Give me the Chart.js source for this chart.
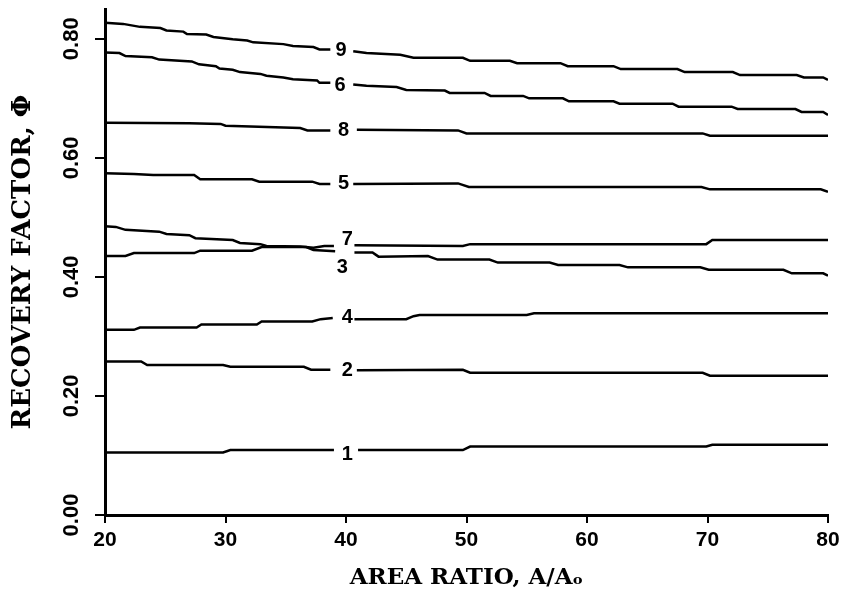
<!DOCTYPE html>
<html>
<head>
<meta charset="utf-8">
<script src="https://cdn.jsdelivr.net/npm/chart.js@4.4.1/dist/chart.umd.min.js"></script>
<style>
html, body { margin: 0; padding: 0; background: #fff; }
</style>
</head>
<body>
<canvas id="chart" width="843" height="601"></canvas>
<script>
// curves: [area ratio, recovery factor]; null = gap where the label sits
const curve1 = [[20,0.105],[29.8,0.105],[30.4,0.109],[39.0,0.109],[40.0,null],[41.0,0.109],[49.7,0.109],[50.3,0.115],[69.9,0.115],[70.4,0.118],[80,0.118]];
const curve2 = [[20,0.258],[23.0,0.258],[23.5,0.252],[29.8,0.252],[30.4,0.249],[36.5,0.249],[37.1,0.244],[38.7,0.244],[40.0,null],[40.9,0.243],[49.7,0.244],[50.3,0.239],[69.6,0.239],[70.2,0.234],[80,0.234]];
const curve3 = [[20,0.435],[21.7,0.435],[22.4,0.440],[27.4,0.440],[27.9,0.444],[32.2,0.444],[33.0,0.450],[36.7,0.450],[37.3,0.445],[39.1,0.443],[39.8,null],[40.7,0.441],[42.2,0.441],[42.7,0.434],[46.8,0.435],[47.6,0.429],[51.9,0.429],[52.6,0.424],[56.9,0.424],[57.6,0.420],[62.7,0.420],[63.4,0.416],[69.4,0.416],[70.1,0.412],[76.3,0.412],[77.0,0.406],[79.6,0.406],[80,0.402]];
const curve4 = [[20,0.311],[22.4,0.311],[22.9,0.315],[27.6,0.315],[28.0,0.320],[32.6,0.320],[33.0,0.325],[37.2,0.325],[37.9,0.329],[38.9,0.331],[40.0,null],[40.7,0.329],[45.0,0.329],[45.6,0.334],[46.1,0.336],[55.0,0.336],[55.6,0.339],[80,0.339]];
const curve5 = [[20,0.574],[22.4,0.573],[24.0,0.571],[27.4,0.571],[27.9,0.564],[32.2,0.564],[32.8,0.560],[37.2,0.560],[37.8,0.556],[38.7,0.556],[39.8,null],[40.6,0.556],[49.3,0.557],[50.2,0.551],[69.5,0.551],[70.2,0.547],[79.4,0.547],[80,0.543]];
const curve6 = [[20,0.777],[21.2,0.776],[21.7,0.771],[23.9,0.769],[24.5,0.765],[27.2,0.762],[27.8,0.757],[29.2,0.754],[29.5,0.750],[30.6,0.748],[31.2,0.744],[32.9,0.741],[33.4,0.738],[34.8,0.735],[35.6,0.732],[37.6,0.730],[37.8,0.726],[38.7,0.726],[39.5,null],[40.6,0.723],[41.7,0.721],[44.2,0.719],[45.0,0.714],[48.2,0.713],[48.6,0.709],[51.5,0.709],[52.0,0.704],[54.7,0.704],[55.2,0.700],[58.0,0.700],[58.5,0.695],[62.2,0.695],[62.7,0.691],[67.1,0.691],[67.6,0.686],[72.0,0.686],[72.5,0.682],[77.3,0.682],[77.8,0.677],[79.6,0.677],[80,0.672]];
const curve7 = [[20,0.485],[20.9,0.484],[21.7,0.479],[24.5,0.476],[25.1,0.472],[27.0,0.470],[27.5,0.465],[30.6,0.462],[31.2,0.457],[32.9,0.455],[33.4,0.452],[36.2,0.451],[37.3,0.449],[38.2,0.452],[39.0,0.452],[40.0,null],[40.7,0.453],[49.7,0.452],[50.3,0.455],[69.9,0.455],[70.4,0.462],[80,0.462]];
const curve8 = [[20,0.659],[27.0,0.658],[29.6,0.657],[30.0,0.654],[36.2,0.650],[36.8,0.646],[38.7,0.646],[39.8,null],[40.9,0.647],[49.3,0.646],[50.0,0.641],[69.6,0.641],[70.2,0.637],[80,0.637]];
const curve9 = [[20,0.827],[21.5,0.825],[22.9,0.820],[24.6,0.818],[25.1,0.814],[26.5,0.812],[26.8,0.808],[28.4,0.807],[29.0,0.803],[30.6,0.799],[31.8,0.797],[32.3,0.794],[34.8,0.791],[35.6,0.788],[37.3,0.786],[37.8,0.782],[38.7,0.782],[39.6,null],[40.6,0.779],[41.7,0.776],[44.5,0.773],[45.6,0.768],[49.7,0.768],[50.3,0.763],[53.6,0.763],[54.2,0.759],[57.8,0.759],[58.4,0.754],[62.2,0.754],[62.8,0.749],[67.5,0.749],[68.1,0.744],[72.1,0.744],[72.7,0.739],[77.4,0.739],[78.0,0.735],[79.6,0.735],[80,0.731]];

const curves = [curve1, curve2, curve3, curve4, curve5, curve6, curve7, curve8, curve9];
const curveNames = ["1", "2", "3", "4", "5", "6", "7", "8", "9"];
// where each curve number is written (data units)
const labelX = [40.1, 40.1, 39.7, 40.1, 39.8, 39.5, 40.1, 39.8, 39.6];
const labelY = [0.104, 0.244, 0.417, 0.334, 0.558, 0.723, 0.465, 0.647, 0.782];

const tickFont = { family: "Liberation Sans", size: 21, weight: "bold" };

// writes the curve numbers into the gaps of the lines
const curveLabels = {
    id: "curveLabels",
    afterDatasetsDraw(chart) {
        const ctx = chart.ctx;
        const x = chart.scales.x;
        const y = chart.scales.y;
        ctx.save();
        ctx.fillStyle = "#000";
        ctx.font = "bold 20px 'Liberation Sans'";
        ctx.textAlign = "center";
        ctx.textBaseline = "middle";
        for (let i = 0; i < curveNames.length; i++) {
            ctx.fillText(curveNames[i], x.getPixelForValue(labelX[i]), y.getPixelForValue(labelY[i]) + 1);
        }
        ctx.restore();
    }
};

const datasets = curves.map((c, i) => ({
    label: "Curve " + curveNames[i],
    data: c.map(p => ({ x: p[0], y: p[1] })),
    borderColor: "#000",
    borderWidth: 2.5,
    pointRadius: 0,
    spanGaps: false,
    tension: 0
}));

const context = document.getElementById("chart").getContext("2d");
const chart = new Chart(context, {
    type: "line",
    data: { datasets },
    options: {
        responsive: false,
        animation: false,
        layout: { padding: { top: 9, right: 15, left: 6, bottom: 6 } },
        plugins: {
            legend: { display: false },
            tooltip: { enabled: false }
        },
        scales: {
            x: {
                type: "linear",
                min: 20,
                max: 80,
                border: { color: "#000", width: 3 },
                grid: { drawOnChartArea: false, color: "#000", lineWidth: 2, tickLength: 8 },
                ticks: { stepSize: 10, color: "#000", font: tickFont, padding: 5 },
                title: {
                    display: true,
                    text: "AREA RATIO, A/Aₒ",
                    color: "#000",
                    font: { family: "DejaVu Serif", size: 23, weight: "bold" },
                    padding: { top: 0, bottom: 3 }
                },
                afterFit(scale) {
                    scale.height = 80;
                    scale.paddingLeft = 0;
                    scale.paddingRight = 0;
                }
            },
            y: {
                min: 0,
                max: 0.85,
                border: { color: "#000", width: 3 },
                grid: { drawOnChartArea: false, color: "#000", lineWidth: 2, tickLength: 10 },
                ticks: {
                    stepSize: 0.2,
                    includeBounds: false,
                    minRotation: 90,
                    maxRotation: 90,
                    crossAlign: "center",
                    padding: 2,
                    color: "#000",
                    font: { family: "Liberation Sans", size: 22, weight: "bold" },
                    callback: v => v.toFixed(2)
                },
                title: {
                    display: true,
                    text: "RECOVERY FACTOR, Φ",
                    color: "#000",
                    font: { family: "DejaVu Serif", size: 26, weight: "bold" },
                    padding: { top: 2, bottom: 0 }
                },
                afterFit(scale) {
                    scale.width = 99;
                    scale.paddingTop = 0;
                    scale.paddingBottom = 0;
                }
            }
        }
    },
    plugins: [curveLabels]
});
</script>
</body>
</html>
